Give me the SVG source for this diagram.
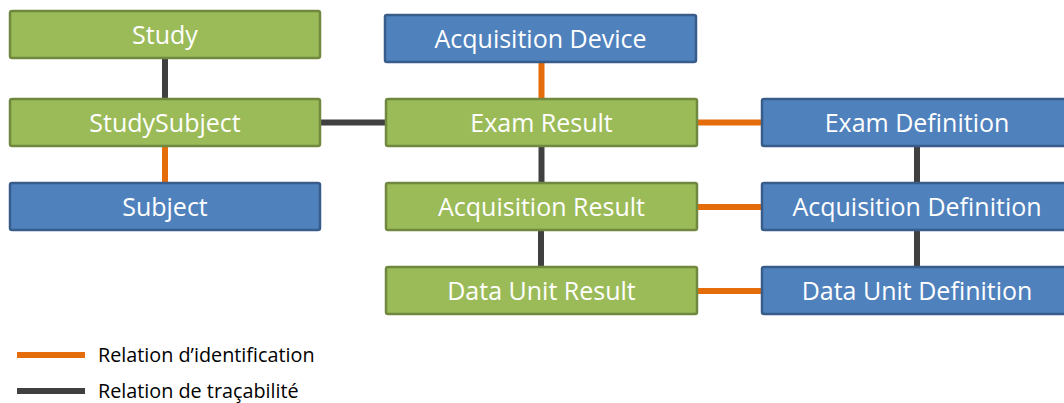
<svg xmlns="http://www.w3.org/2000/svg" width="1064" height="403" viewBox="0 0 1064 403">
<style>
.g rect{fill:#9BBB59;stroke:#71893F;stroke-width:2.5}
.b rect{fill:#4F81BD;stroke:#385D8A;stroke-width:2.5}
.n text{fill:#fff;font-family:"Open Sans","Noto Sans",sans-serif;font-size:25px;text-anchor:middle}
.id{stroke:#E46C0A;stroke-width:6}
.tr{stroke:#404040;stroke-width:6}
.lg{fill:#000;font-family:"Open Sans","Noto Sans",sans-serif;font-size:19.8px}
</style>
<rect width="1064" height="403" fill="#fff"/>
<g id="connectors">
<line class="tr" x1="165" y1="58" x2="165" y2="99"/>
<line class="id" x1="165" y1="146" x2="165" y2="183"/>
<line class="tr" x1="320" y1="122.5" x2="386" y2="122.5"/>
<line class="id" x1="541.5" y1="62" x2="541.5" y2="99"/>
<line class="tr" x1="541.5" y1="146" x2="541.5" y2="183"/>
<line class="tr" x1="541" y1="230" x2="541" y2="267"/>
<line class="id" x1="697" y1="122.5" x2="762" y2="122.5"/>
<line class="id" x1="697" y1="207" x2="762" y2="207"/>
<line class="id" x1="697" y1="291" x2="762" y2="291"/>
<line class="tr" x1="917" y1="146" x2="917" y2="183"/>
<line class="tr" x1="917" y1="230" x2="917" y2="267"/>
</g>
<g id="study" class="n g"><rect x="10" y="11" width="310" height="47" rx="2"/><text x="165" y="43.5">Study</text></g>
<g id="studysubject" class="n g"><rect x="10" y="99" width="310" height="47" rx="2"/><text x="165" y="131.5">StudySubject</text></g>
<g id="subject" class="n b"><rect x="10" y="183" width="310" height="47" rx="2"/><text x="165" y="215.5">Subject</text></g>
<g id="acqdevice" class="n b"><rect x="385" y="15" width="311" height="47" rx="2"/><text x="540.5" y="47.5">Acquisition Device</text></g>
<g id="examresult" class="n g"><rect x="386" y="99" width="311" height="47" rx="2"/><text x="541.5" y="131.5">Exam Result</text></g>
<g id="acqresult" class="n g"><rect x="386" y="183" width="311" height="47" rx="2"/><text x="541.5" y="215.5">Acquisition Result</text></g>
<g id="duresult" class="n g"><rect x="386" y="267" width="311" height="47" rx="2"/><text x="541.5" y="299.5">Data Unit Result</text></g>
<g id="examdef" class="n b"><rect x="762" y="99" width="310" height="47" rx="2"/><text x="917" y="131.5">Exam Definition</text></g>
<g id="acqdef" class="n b"><rect x="762" y="183" width="310" height="47" rx="2"/><text x="917" y="215.5">Acquisition Definition</text></g>
<g id="dudef" class="n b"><rect x="762" y="267" width="310" height="47" rx="2"/><text x="917" y="299.5">Data Unit Definition</text></g>
<g id="legend">
<line class="id" x1="17" y1="355" x2="85" y2="355"/>
<text class="lg" x="98" y="362">Relation d’identification</text>
<line class="tr" x1="17" y1="391" x2="85" y2="391"/>
<text class="lg" x="98" y="398">Relation de traçabilité</text>
</g>
</svg>
